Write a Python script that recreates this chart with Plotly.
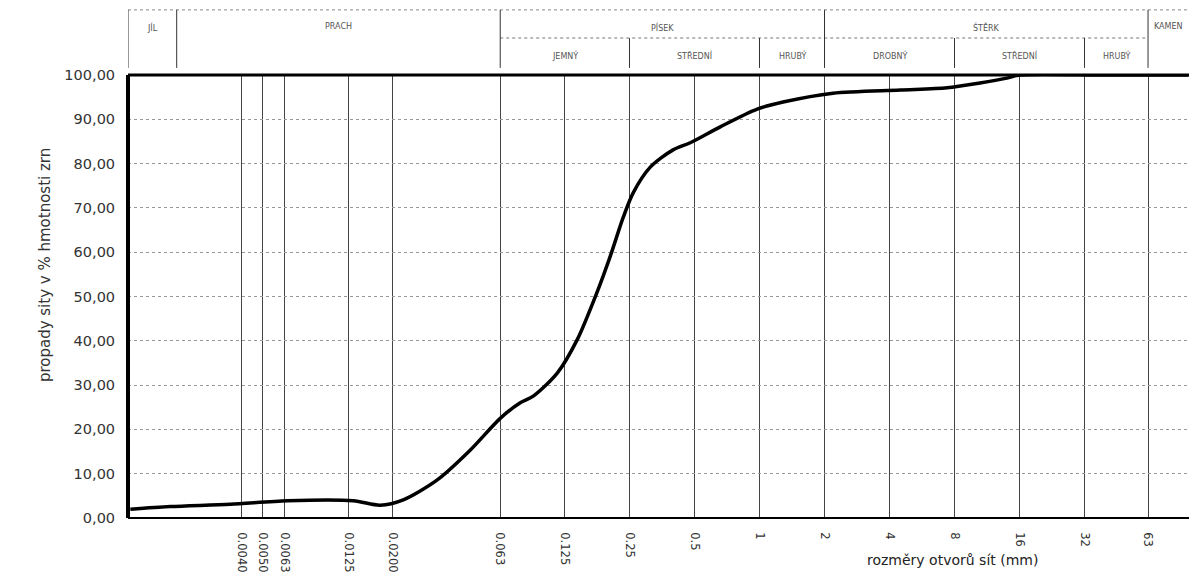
import numpy as np
import plotly.graph_objects as go

# grain size (mm) and passing (%)
sizes = [0.00122, 0.00187, 0.00354, 0.00651, 0.01314, 0.0175, 0.0224, 0.0322, 0.0457,
         0.063, 0.078, 0.0896, 0.1157, 0.143, 0.177, 0.203, 0.234, 0.26, 0.312, 0.398,
         0.478, 0.658, 0.976, 1.286, 2.19, 4.48, 7.39, 10.5, 14.0, 16.1, 40.0, 97.0]
passing = [2.0, 2.6, 3.1, 3.9, 3.9, 2.9, 4.1, 8.6, 15.3,
           22.5, 26.0, 27.5, 32.7, 40.2, 51.0, 58.9, 67.9, 73.4, 79.2, 83.1,
           84.7, 88.3, 92.3, 93.9, 95.9, 96.6, 97.1, 98.2, 99.3, 100.0, 100.0, 100.0]

tick_vals = [0.004, 0.005, 0.0063, 0.0125, 0.02, 0.063, 0.125, 0.25, 0.5, 1, 2, 4, 8, 16, 32, 63]
tick_text = ["0.0040", "0.0050", "0.0063", "0.0125", "0.0200", "0.063", "0.125", "0.25", "0.5",
             "1", "2", "4", "8", "16", "32", "63"]
y_vals = [0, 10, 20, 30, 40, 50, 60, 70, 80, 90, 100]
y_text = ["0,00", "10,00", "20,00", "30,00", "40,00", "50,00", "60,00", "70,00", "80,00", "90,00", "100,00"]

# header classification (boundaries in mm)
main_bounds = [0.00119, 0.002, 0.063, 2, 63, 97.5]
main_names = ["JÍL", "PRACH", "PÍSEK", "ŠTĚRK", "KAMEN"]
sub_bounds = [0.063, 0.25, 1, 2, 8, 32, 63]
sub_names = ["JEMNÝ", "STŘEDNÍ", "HRUBÝ", "DROBNÝ", "STŘEDNÍ", "HRUBÝ"]

fig = go.Figure()
fig.add_trace(go.Scatter(x=sizes, y=passing, mode="lines",
                         line=dict(color="black", width=3.5, shape="spline", smoothing=0.8),
                         showlegend=False, hoverinfo="skip"))

shapes = []
# plot borders
shapes.append(dict(type="line", xref="paper", yref="paper", x0=0, x1=1, y0=1, y1=1,
                   line=dict(color="black", width=3)))
shapes.append(dict(type="line", xref="paper", yref="paper", x0=0, x1=0, y0=0, y1=1,
                   line=dict(color="black", width=4)))
shapes.append(dict(type="line", xref="paper", yref="paper", x0=0, x1=1, y0=0, y1=0,
                   line=dict(color="black", width=2)))

# header table
y_top, y_mid, y_bot = 1.147, 1.0835, 1.016
shapes.append(dict(type="line", xref="paper", yref="paper", x0=0, x1=1, y0=y_top, y1=y_top,
                   line=dict(color="#888", width=1, dash="dot")))
shapes.append(dict(type="line", xref="x", yref="paper", x0=0.063, x1=63, y0=y_mid, y1=y_mid,
                   line=dict(color="#777", width=1, dash="dot")))
for b in main_bounds[:-1]:
    shapes.append(dict(type="line", xref="x", yref="paper", x0=b, x1=b, y0=y_bot, y1=y_top,
                       line=dict(color="#333", width=1)))
for b in sub_bounds[1:-1]:
    if b == 2:
        continue
    shapes.append(dict(type="line", xref="x", yref="paper", x0=b, x1=b, y0=y_bot, y1=y_mid,
                       line=dict(color="#333", width=1)))

annotations = []
for i, name in enumerate(main_names):
    xm = (np.log10(main_bounds[i]) + np.log10(main_bounds[i + 1])) / 2
    annotations.append(dict(x=xm, y=1.125, xref="x", yref="paper", text=name,
                            showarrow=False, font=dict(size=8, color="#555", family="DejaVu Sans")))
for i, name in enumerate(sub_names):
    xm = (np.log10(sub_bounds[i]) + np.log10(sub_bounds[i + 1])) / 2
    annotations.append(dict(x=xm, y=1.06, xref="x", yref="paper", text=name,
                            showarrow=False, font=dict(size=8, color="#555", family="DejaVu Sans")))

annotations.append(dict(x=-0.088, y=0.57, xref="paper", yref="paper", textangle=-90,
                        text="propady sity v % hmotnosti zrn", showarrow=False,
                        font=dict(size=15, color="#333", family="DejaVu Sans")))
annotations.append(dict(x=0.8596, y=-0.117, xref="paper", yref="paper",
                        text="rozměry otvorů sít (mm)", showarrow=False,
                        font=dict(size=14, color="#222", family="DejaVu Sans")))

fig.update_layout(
    width=1189, height=578,
    margin=dict(l=128, r=0, t=75, b=60),
    paper_bgcolor="white", plot_bgcolor="white",
    shapes=shapes, annotations=annotations,
    xaxis=dict(type="log", range=[np.log10(0.00119), np.log10(97.5)],
               tickvals=tick_vals, ticktext=tick_text, tickangle=90,
               showgrid=True, gridcolor="#444", gridwidth=1,
               ticks="outside", ticklen=11, tickcolor="rgba(0,0,0,0)",
               tickfont=dict(size=11.5, color="#333", family="DejaVu Sans"),
               showline=False, zeroline=False, automargin=False),
    yaxis=dict(range=[0, 100], tickvals=y_vals, ticktext=y_text,
               showgrid=True, gridcolor="#999", gridwidth=1, griddash="dot",
               ticks="outside", ticklen=9, tickcolor="rgba(0,0,0,0)",
               tickfont=dict(size=14.5, color="#333", family="DejaVu Sans"),
               showline=False, zeroline=False, automargin=False),
    font=dict(family="DejaVu Sans"),
)

fig.write_html("out.html")
